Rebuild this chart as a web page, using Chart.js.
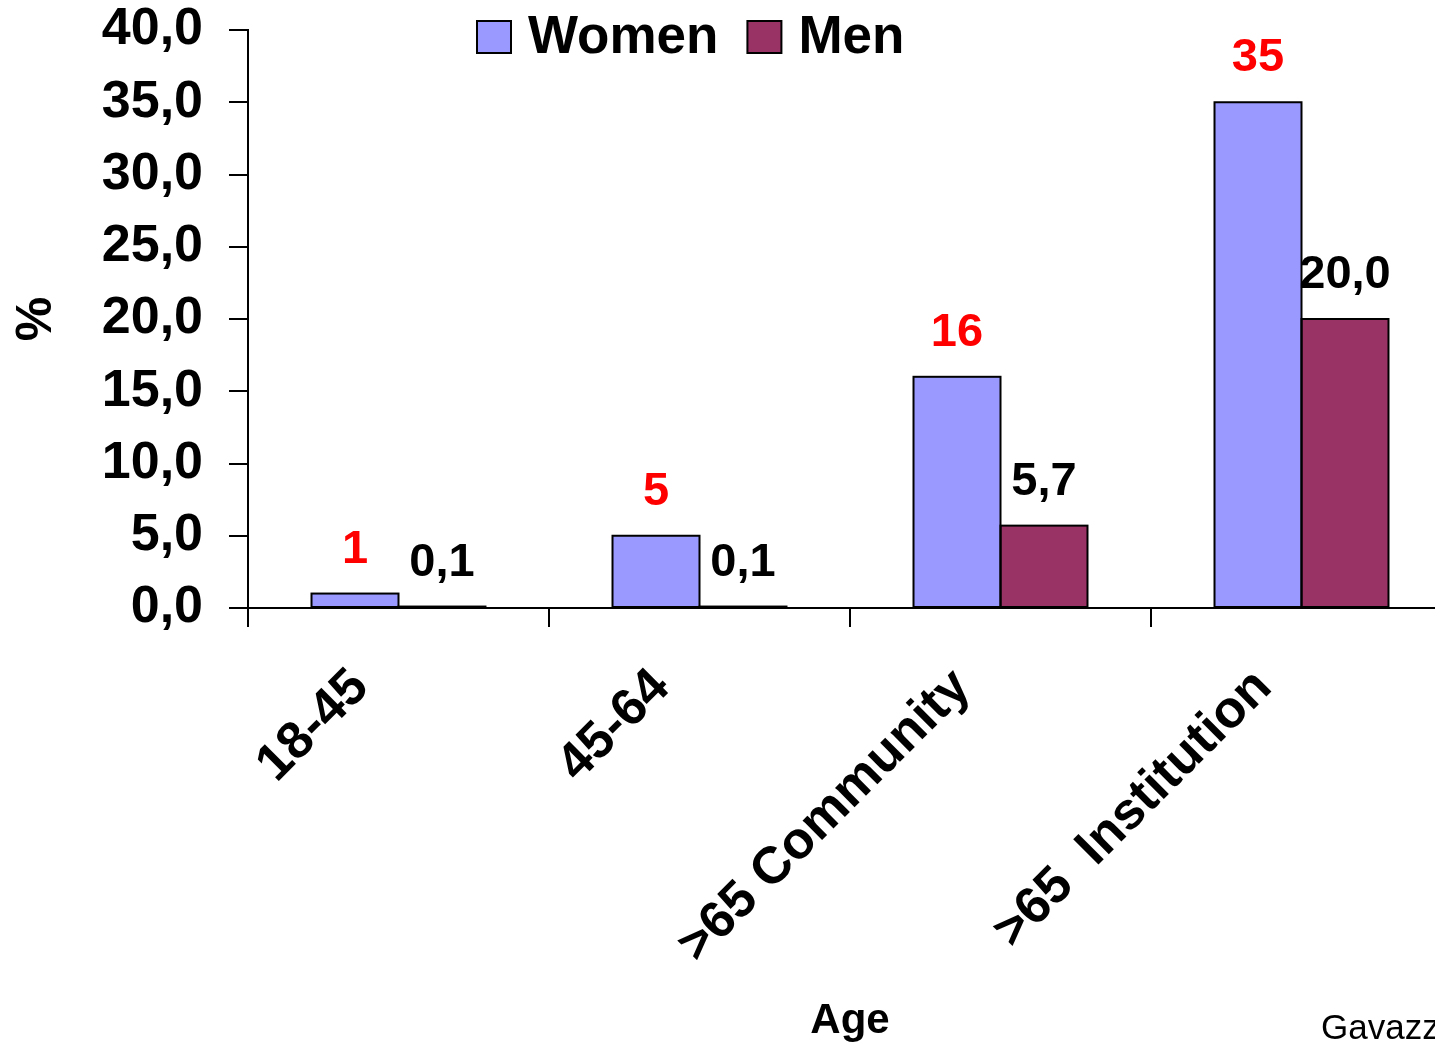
<!DOCTYPE html>
<html>
<head>
<meta charset="utf-8">
<title>Prevalence by age group</title>
<script src="https://cdn.jsdelivr.net/npm/chart.js@4.4.1/dist/chart.umd.min.js"></script>
<style>
  html, body { margin: 0; padding: 0; background: #ffffff; overflow: hidden; }
  #wrap { position: relative; width: 1460px; height: 1047px; }
</style>
</head>
<body>
<div id="wrap"><canvas id="chart"></canvas></div>
<script>
// Age groups on the category axis
const categories = ['18-45', '45-64', '>65 Community', '>65  Institution'];
// Percentages per sex
const women = [1, 5, 16, 35];
const men = [0.1, 0.1, 5.7, 20.0];
// Value axis ticks
const yTicks = [0, 5, 10, 15, 20, 25, 30, 35, 40];
const seriesNames = ['Women', 'Men'];
const sourceNote = 'Gavazzi';

const FONT = "'Liberation Sans', Arial, Helvetica, sans-serif";
Chart.defaults.font.family = FONT;
Chart.defaults.color = '#000000';

const comma = (v, d) => v.toFixed(d).replace('.', ',');

// Black outline round every bar, kept visible even for very short bars
const barOutlines = {
  id: 'barOutlines',
  afterDatasetsDraw(chart) {
    const ctx = chart.ctx;
    ctx.save();
    ctx.lineWidth = 2;
    ctx.strokeStyle = '#000000';
    chart.data.datasets.forEach((ds, i) => {
      chart.getDatasetMeta(i).data.forEach(bar => {
        const { x, y, base, width } = bar.getProps(['x', 'y', 'base', 'width'], true);
        ctx.strokeRect(x - width / 2, y, width, base - y);
      });
    });
    ctx.restore();
  }
};

// Value labels above each bar
const valueLabels = {
  id: 'valueLabels',
  afterDatasetsDraw(chart) {
    const ctx = chart.ctx;
    chart.data.datasets.forEach((ds, i) => {
      const meta = chart.getDatasetMeta(i);
      meta.data.forEach((bar, j) => {
        ctx.save();
        ctx.font = 'bold 47px ' + FONT;
        ctx.fillStyle = ds.labelColor;
        ctx.textAlign = 'center';
        ctx.textBaseline = 'middle';
        ctx.fillText(ds.labelFormat(ds.data[j]), bar.x, bar.y - 44);
        ctx.restore();
      });
    });
  }
};

// Legend row inside the plot, near the top
const topLegend = {
  id: 'topLegend',
  afterDraw(chart) {
    const ctx = chart.ctx;
    let x = 477;
    const boxY = 21, boxW = 34, boxH = 32, textY = 38;
    ctx.save();
    ctx.font = 'bold 53px ' + FONT;
    ctx.textBaseline = 'middle';
    ctx.textAlign = 'left';
    chart.data.datasets.forEach(ds => {
      ctx.fillStyle = ds.backgroundColor;
      ctx.fillRect(x, boxY, boxW, boxH);
      ctx.lineWidth = 2;
      ctx.strokeStyle = '#000000';
      ctx.strokeRect(x, boxY, boxW, boxH);
      ctx.fillStyle = '#000000';
      const tx = x + boxW + 17;
      ctx.fillText(ds.label, tx, textY);
      x = tx + ctx.measureText(ds.label).width + 29;
    });
    ctx.restore();
  }
};

// Source note at the bottom right
const sourceText = {
  id: 'sourceText',
  afterDraw(chart) {
    const ctx = chart.ctx;
    ctx.save();
    ctx.font = '35px ' + FONT;
    ctx.fillStyle = '#000000';
    ctx.textAlign = 'left';
    ctx.textBaseline = 'alphabetic';
    ctx.fillText(sourceNote, 1321, 1039);
    ctx.restore();
  }
};

new Chart(document.getElementById('chart'), {
  type: 'bar',
  data: {
    labels: categories,
    datasets: [
      {
        label: seriesNames[0],
        data: women,
        backgroundColor: '#9999FF',
        borderWidth: 0,
        labelColor: '#FF0000',
        labelFormat: v => comma(v, 0)
      },
      {
        label: seriesNames[1],
        data: men,
        backgroundColor: '#993366',
        borderWidth: 0,
        labelColor: '#000000',
        labelFormat: v => comma(v, 1)
      }
    ]
  },
  options: {
    responsive: true,
    maintainAspectRatio: false,
    animation: false,
    layout: { padding: { top: 30, right: 8, left: 0, bottom: 0 } },
    categoryPercentage: 0.578,
    barPercentage: 1.0,
    plugins: {
      legend: { display: false },
      tooltip: { enabled: false }
    },
    scales: {
      x: {
        afterFit: s => { s.height = 439; s.paddingLeft = 0; s.paddingRight = 0; },
        ticks: {
          color: '#000000',
          font: { size: 52, weight: 'bold' },
          minRotation: 45,
          maxRotation: 45,
          autoSkip: false,
          padding: 30,
          labelOffset: -38
        },
        grid: { drawOnChartArea: false, tickLength: 19, color: '#000000', lineWidth: 2, offset: true },
        border: { color: '#000000', width: 2 },
        title: {
          display: true,
          text: 'Age',
          color: '#000000',
          font: { size: 42, weight: 'bold' },
          padding: { top: 0, bottom: 0 }
        }
      },
      y: {
        min: 0,
        max: 40,
        afterBuildTicks: s => { s.ticks = yTicks.map(v => ({ value: v })); },
        afterFit: s => { s.width = 248; s.paddingTop = 0; s.paddingBottom = 0; },
        ticks: {
          color: '#000000',
          font: { size: 52, weight: 'bold' },
          padding: 26,
          callback: v => comma(v, 1)
        },
        grid: { drawOnChartArea: false, tickLength: 19, color: '#000000', lineWidth: 2 },
        border: { color: '#000000', width: 2 },
        title: {
          display: true,
          text: '%',
          color: '#000000',
          font: { size: 50, weight: 'bold' },
          padding: { top: 7, bottom: 0 }
        }
      }
    }
  },
  plugins: [barOutlines, valueLabels, topLegend, sourceText]
});
</script>
</body>
</html>
